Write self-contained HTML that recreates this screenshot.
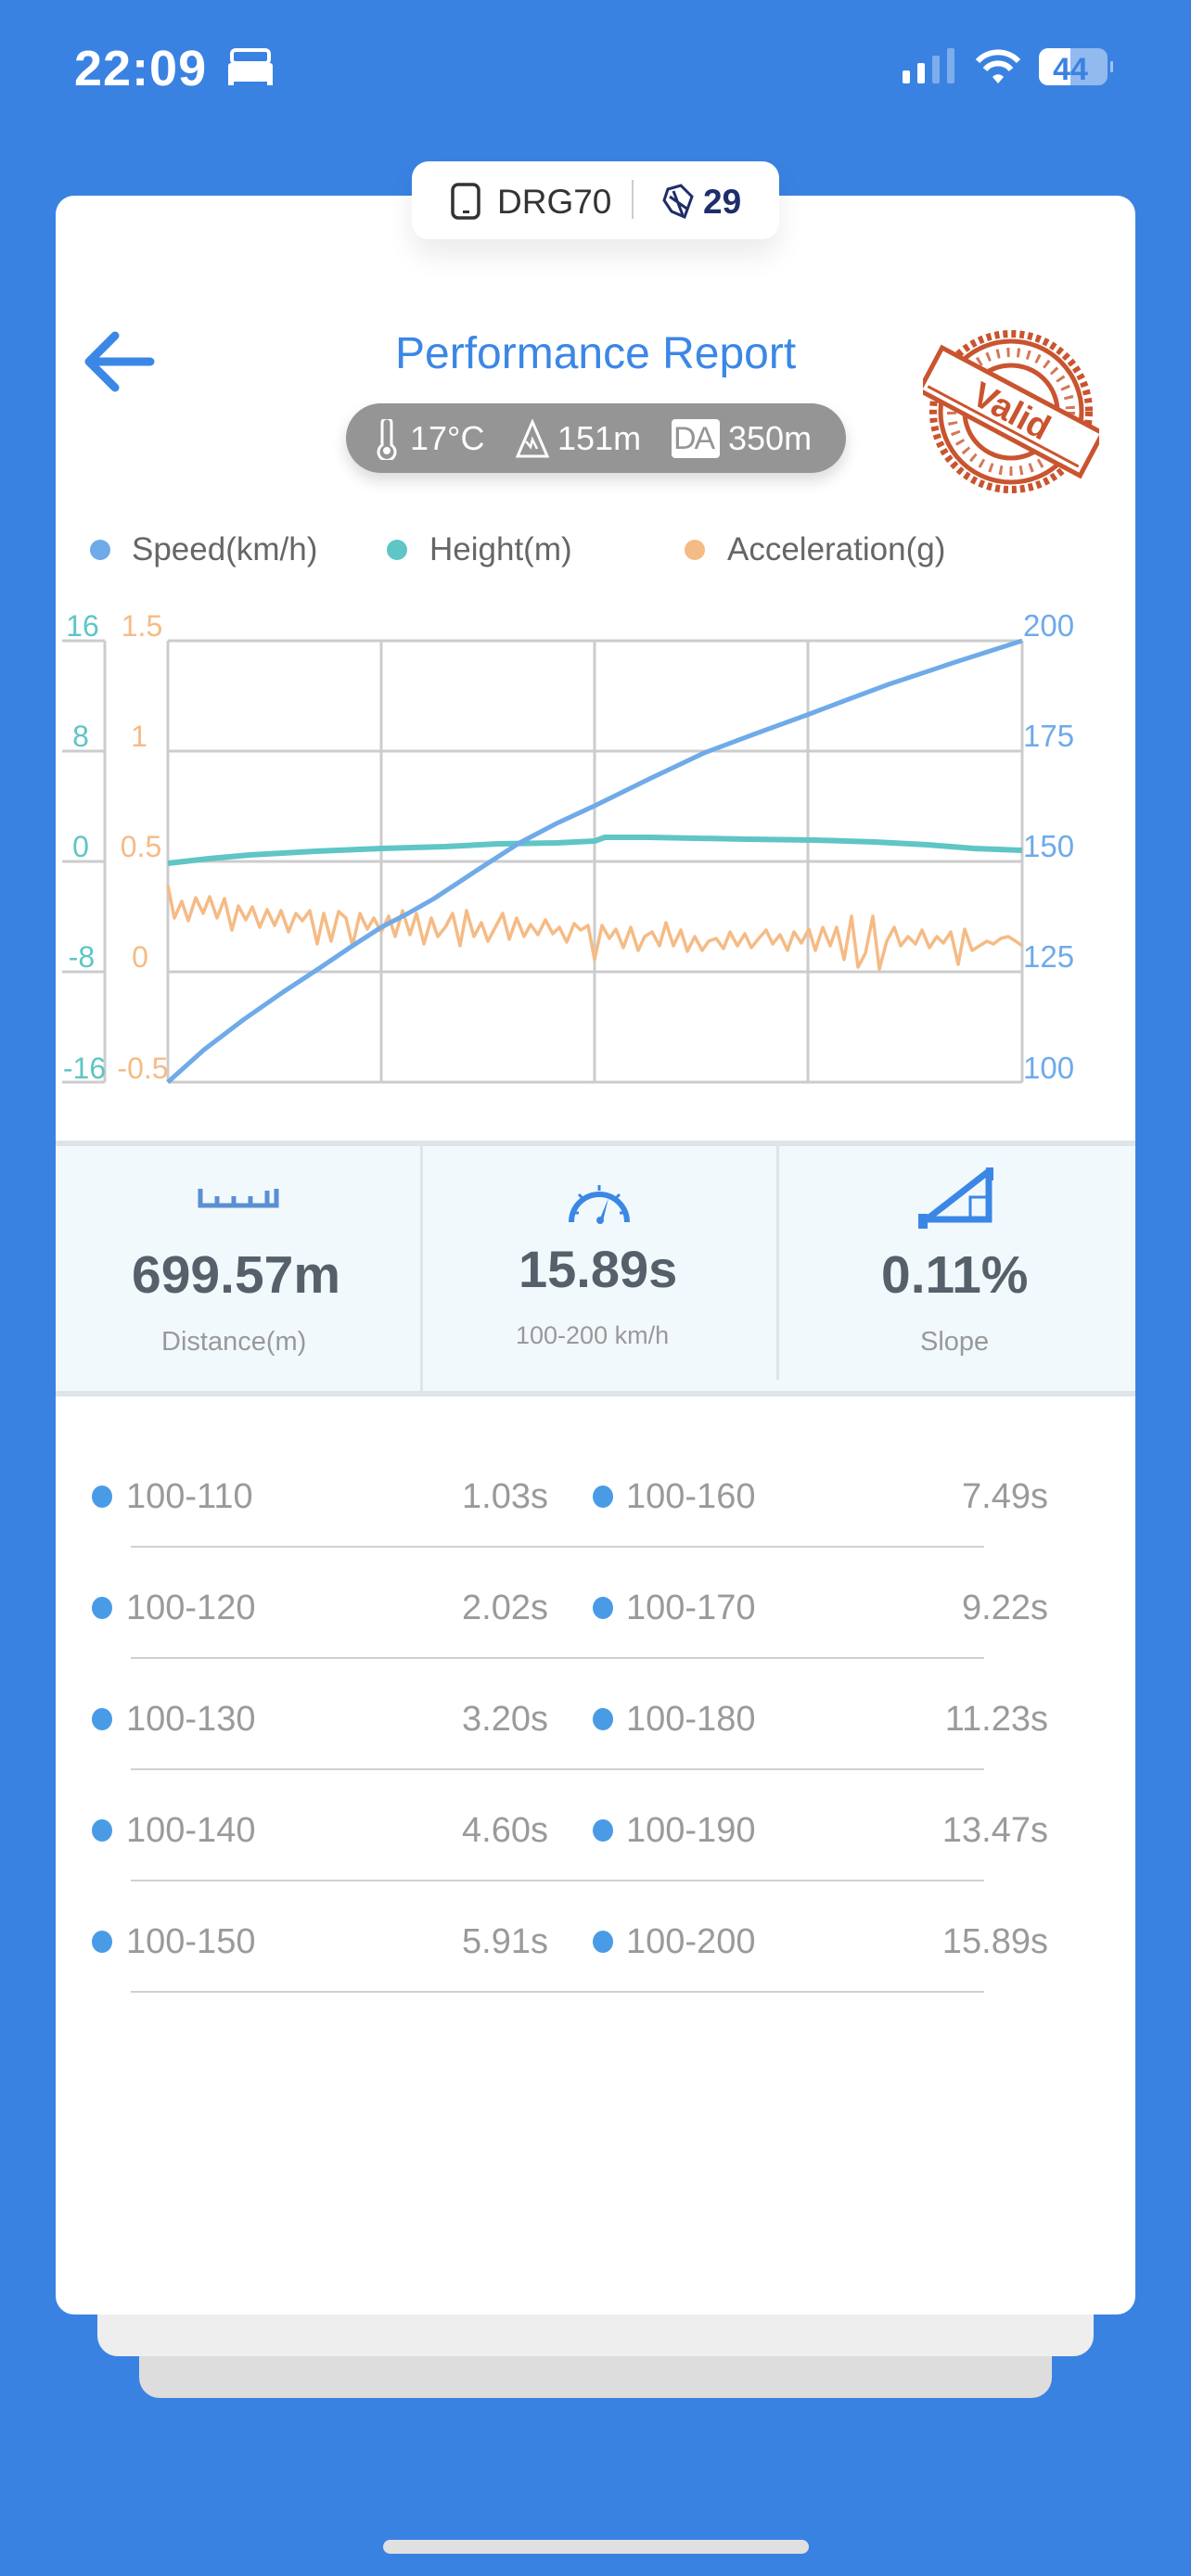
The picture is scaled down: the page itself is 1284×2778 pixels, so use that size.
<!DOCTYPE html>
<html><head><meta charset="utf-8">
<style>
*{margin:0;padding:0;box-sizing:border-box}
body{width:1284px;height:2778px;background:#3a82e2;position:relative;overflow:hidden;font-family:"Liberation Sans",Arial,sans-serif}
.abs{position:absolute}
.t{position:absolute;white-space:nowrap;line-height:1}
</style></head><body>
<!-- status bar -->
<div class="t" style="left:80px;top:47px;font-size:54px;font-weight:bold;color:#fff;letter-spacing:1px">22:09</div>
<svg class="abs" style="left:244px;top:52px" width="52" height="42" viewBox="0 0 52 42"><rect x="6" y="2" width="40" height="14" rx="4" fill="none" stroke="#fff" stroke-width="4"/><rect x="2" y="16" width="48" height="20" rx="3" fill="#fff"/><rect x="2" y="30" width="6" height="10" fill="#fff"/><rect x="44" y="30" width="6" height="10" fill="#fff"/></svg>
<svg class="abs" style="left:970px;top:50px" width="230" height="46" viewBox="0 0 230 46">
<rect x="3" y="26" width="8" height="14" rx="2" fill="#fff"/><rect x="19" y="18" width="8" height="22" rx="2" fill="#fff"/><rect x="35" y="10" width="8" height="30" rx="2" fill="#fff" opacity=".35"/><rect x="51" y="2" width="8" height="38" rx="2" fill="#fff" opacity=".35"/>
<path d="M84 16 A30 30 0 0 1 128 16" stroke="#fff" stroke-width="6" fill="none"/><path d="M92 25 A18 18 0 0 1 120 25" stroke="#fff" stroke-width="6" fill="none"/><path d="M100 33 L106 40 L112 33 A8 8 0 0 0 100 33Z" fill="#fff"/>
<rect x="150" y="2" width="74" height="40" rx="10" fill="#fff" opacity=".45"/><rect x="150" y="2" width="34" height="40" rx="10" fill="#fff"/><rect x="170" y="2" width="14" height="40" fill="#fff"/><text x="184" y="36" text-anchor="middle" font-size="34" font-weight="bold" fill="#3a82e2" font-family="Liberation Sans">44</text><rect x="227" y="16" width="3" height="12" rx="1" fill="#fff" opacity=".5"/></svg>

<!-- stacked layers -->
<div class="abs" style="left:150px;top:2480px;width:984px;height:106px;background:#dddddd;border-radius:0 0 22px 22px"></div>
<div class="abs" style="left:105px;top:2440px;width:1074px;height:101px;background:#eeeeee;border-radius:0 0 22px 22px"></div>
<div class="abs" style="left:60px;top:211px;width:1164px;height:2285px;background:#fff;border-radius:20px"></div>
<div class="abs" style="left:413px;top:2739px;width:459px;height:15px;background:#e0e0e0;border-radius:8px"></div>

<!-- top pill -->
<div class="abs" style="left:444px;top:174px;width:396px;height:84px;background:#fff;border-radius:18px;box-shadow:0 18px 30px rgba(0,0,0,0.08)"></div>
<svg class="abs" style="left:485px;top:197px" width="36" height="40" viewBox="0 0 36 40"><rect x="3" y="2" width="28" height="36" rx="6" fill="none" stroke="#333" stroke-width="3.5"/><rect x="14" y="30" width="7" height="3" fill="#333"/></svg>
<div class="t" style="left:536px;top:199px;font-size:37px;color:#333">DRG70</div>
<div class="abs" style="left:681px;top:194px;width:2px;height:42px;background:#ccc"></div>
<svg class="abs" style="left:712px;top:198px" width="40" height="40" viewBox="0 0 40 40"><path d="M8 6 L22 2 L34 14 L26 36 L12 30 L4 18Z" fill="none" stroke="#1e2d6b" stroke-width="3"/><path d="M10 14 L30 28 M14 8 L24 34" stroke="#1e2d6b" stroke-width="3"/></svg>
<div class="t" style="left:758px;top:199px;font-size:37px;font-weight:bold;color:#1e2d6b">29</div>

<!-- back arrow & title -->
<svg class="abs" style="left:88px;top:356px" width="80" height="68" viewBox="0 0 80 68"><path d="M36 6 L8 34 L36 62 M8 34 L74 34" stroke="#3b87e6" stroke-width="9" stroke-linecap="round" stroke-linejoin="round" fill="none"/></svg>
<div class="t" style="left:426px;top:358px;font-size:48px;color:#3b87e6">Performance Report</div>

<!-- weather pill -->
<div class="abs" style="left:373px;top:435px;width:539px;height:75px;background:#959595;border-radius:38px;box-shadow:0 8px 16px rgba(0,0,0,0.15)"></div>
<svg class="abs" style="left:404px;top:452px" width="26" height="44" viewBox="0 0 26 44"><path d="M8 4 A5 5 0 0 1 18 4 L18 28 A9 9 0 1 1 8 28Z" fill="none" stroke="#fff" stroke-width="3"/><circle cx="13" cy="34" r="4" fill="#fff"/></svg>
<div class="t" style="left:442px;top:455px;font-size:36px;color:#fff">17°C</div>
<svg class="abs" style="left:555px;top:452px" width="38" height="42" viewBox="0 0 38 42"><path d="M19 3 L35 40 L3 40Z" fill="none" stroke="#fff" stroke-width="3"/><path d="M12 24 L17 30 L19 22 L24 32" fill="none" stroke="#fff" stroke-width="2.5"/></svg>
<div class="t" style="left:601px;top:455px;font-size:36px;color:#fff">151m</div>
<div class="abs" style="left:724px;top:452px;width:52px;height:42px;background:#fff;border-radius:4px"></div>
<div class="t" style="left:726px;top:456px;font-size:34px;color:#959595;letter-spacing:-2px">DA</div>
<div class="t" style="left:785px;top:455px;font-size:36px;color:#fff">350m</div>

<!-- stamp -->
<svg class="abs" style="left:995px;top:352px" width="190" height="184" viewBox="-95 -92 190 184">
<g fill="none" stroke="#c9542f">
<circle r="84" stroke-width="8" stroke-dasharray="5 4"/>
<circle r="76" stroke-width="5"/>
<circle r="50" stroke-width="5"/>
<circle r="64" stroke-width="10" stroke-dasharray="3 8" opacity=".8"/>
</g>
<g transform="rotate(28)">
<rect x="-98" y="-26" width="196" height="52" fill="#fff" stroke="#c9542f" stroke-width="5"/>
<line x1="-92" y1="18" x2="92" y2="18" stroke="#c9542f" stroke-width="3"/>
<text x="0" y="12" text-anchor="middle" font-size="38" font-weight="bold" fill="#c9542f" font-family="Liberation Sans">Valid</text>
</g>
</svg>

<!-- legend -->
<div class="abs" style="left:97px;top:582px;width:22px;height:22px;border-radius:50%;background:#6faae9"></div>
<div class="t" style="left:142px;top:575px;font-size:35px;color:#666">Speed(km/h)</div>
<div class="abs" style="left:417px;top:582px;width:22px;height:22px;border-radius:50%;background:#5fc5c5"></div>
<div class="t" style="left:463px;top:575px;font-size:35px;color:#666">Height(m)</div>
<div class="abs" style="left:738px;top:582px;width:22px;height:22px;border-radius:50%;background:#f5bb85"></div>
<div class="t" style="left:784px;top:575px;font-size:35px;color:#666">Acceleration(g)</div>

<!-- chart -->
<svg class="abs" style="left:0;top:640px" width="1284" height="560" viewBox="0 640 1284 560">
<g stroke="#cccccc" stroke-width="3" fill="none">
<line x1="181" y1="691" x2="1102" y2="691"/><line x1="181" y1="810" x2="1102" y2="810"/><line x1="181" y1="929" x2="1102" y2="929"/><line x1="181" y1="1048" x2="1102" y2="1048"/><line x1="181" y1="1167" x2="1102" y2="1167"/>
<line x1="181" y1="691" x2="181" y2="1167"/><line x1="411" y1="691" x2="411" y2="1167"/><line x1="641" y1="691" x2="641" y2="1167"/><line x1="871" y1="691" x2="871" y2="1167"/><line x1="1102" y1="691" x2="1102" y2="1167"/>
<line x1="113" y1="691" x2="113" y2="1167"/>
<line x1="67" y1="691" x2="113" y2="691"/><line x1="67" y1="810" x2="113" y2="810"/><line x1="67" y1="929" x2="113" y2="929"/><line x1="67" y1="1048" x2="113" y2="1048"/><line x1="67" y1="1167" x2="113" y2="1167"/>
</g>
<g font-family="Liberation Sans" font-size="32" text-anchor="middle" fill="#5fc5c5">
<text x="89" y="686">16</text><text x="87" y="805">8</text><text x="87" y="924">0</text><text x="88" y="1043">-8</text><text x="91" y="1163">-16</text></g>
<g font-family="Liberation Sans" font-size="32" text-anchor="middle" fill="#f5bb85">
<text x="153" y="686">1.5</text><text x="150" y="805">1</text><text x="152" y="924">0.5</text><text x="151" y="1043">0</text><text x="154" y="1163">-0.5</text></g>
<g font-family="Liberation Sans" font-size="33" fill="#6faae9">
<text x="1103" y="686">200</text><text x="1103" y="805">175</text><text x="1103" y="924">150</text><text x="1103" y="1043">125</text><text x="1103" y="1163">100</text></g>
<polyline fill="none" stroke="#f5bb85" stroke-width="3.5" stroke-linejoin="round" points="181,955 188,990 196,972 203,993 211,968 219,985 226,967 234,990 242,969 250,1003 257,977 265,992 272,978 280,1000 288,981 296,998 303,982 311,1005 319,985 326,993 334,982 342,1018 349,985 357,1015 365,983 373,990 380,1020 388,985 396,1002 403,990 411,1005 419,988 426,1010 434,982 442,1008 449,985 457,1018 465,990 472,1010 480,1000 488,985 496,1020 503,982 511,1010 519,995 526,1015 534,1000 542,985 549,1013 557,990 565,1010 572,997 580,1008 588,992 596,1007 603,1000 611,1016 619,996 626,1003 634,998 641,1035 649,998 657,1012 664,1002 672,1022 680,1000 688,1025 695,1010 703,1005 711,1020 718,995 726,1020 734,1003 741,1026 749,1010 757,1025 764,1015 772,1012 780,1023 787,1005 795,1020 803,1007 810,1022 818,1012 826,1003 833,1018 841,1008 849,1025 856,1005 864,1017 872,1002 879,1025 887,1000 895,1020 902,1000 910,1035 918,988 925,1043 933,1028 941,988 948,1045 956,1015 964,1000 971,1020 979,1010 987,1018 994,1003 1002,1022 1010,1010 1017,1017 1025,1005 1033,1040 1040,1002 1048,1025 1056,1020 1064,1015 1071,1018 1079,1012 1087,1010 1095,1015 1102,1020"/>
<polyline fill="none" stroke="#5fc5c5" stroke-width="6" stroke-linejoin="round" points="181,931 225,926 269,922 340,918 411,915 480,913 537,910 600,909 641,907 652,903 700,903 805,905 880,906 943,908 1000,911 1050,915 1102,917"/>
<polyline fill="none" stroke="#6faae9" stroke-width="5" stroke-linejoin="round" points="181,1167 220,1132 262,1100 305,1070 346,1043 380,1020 411,1000 440,985 468,969 515,938 560,909 600,888 641,869 700,840 759,812 815,791 870,771 915,754 958,738 1030,714 1102,691"/>
</svg>

<!-- stats -->
<div class="abs" style="left:60px;top:1230px;width:1164px;height:276px;background:#f2f9fc;border-top:6px solid #dde5e8;border-bottom:6px solid #dde5e8"></div>
<div class="abs" style="left:453px;top:1236px;width:3px;height:264px;background:#dde5e8"></div>
<div class="abs" style="left:837px;top:1236px;width:3px;height:252px;background:#dde5e8"></div>
<svg class="abs" style="left:213px;top:1280px" width="88" height="24" viewBox="0 0 88 24"><path d="M3 2 L3 20 L85 20 L85 2 M21 10 L21 20 M39 10 L39 20 M57 10 L57 20 M75 4 L75 20" stroke="#5b8fd3" stroke-width="5" fill="none"/></svg>
<svg class="abs" style="left:610px;top:1270px" width="72" height="50" viewBox="0 0 72 50"><path d="M6 48 A30 30 0 1 1 66 48" stroke="#3b87e6" stroke-width="6" fill="none"/><path d="M36 46 L46 22 L40 47Z" fill="#3b87e6"/><circle cx="37" cy="46" r="4" fill="#3b87e6"/><path d="M36 8 L36 14 M14 18 L18 22 M58 18 L54 22 M8 38 L14 38 M64 38 L58 38" stroke="#3b87e6" stroke-width="3"/></svg>
<svg class="abs" style="left:990px;top:1259px" width="82" height="66" viewBox="0 0 82 66"><path d="M4 60 L76 4 L76 56 L4 56Z" fill="none" stroke="#3b87e6" stroke-width="7" stroke-linejoin="miter"/><rect x="73" y="0" width="8" height="14" fill="#3b87e6"/><rect x="0" y="50" width="10" height="16" fill="#3b87e6"/><rect x="56" y="32" width="18" height="22" fill="none" stroke="#3b87e6" stroke-width="3"/></svg>
<div class="t" style="left:142px;top:1347px;font-size:57px;font-weight:bold;color:#56606b">699.57m</div>
<div class="t" style="left:559px;top:1341px;font-size:56px;font-weight:bold;color:#56606b">15.89s</div>
<div class="t" style="left:950px;top:1347px;font-size:57px;font-weight:bold;color:#56606b">0.11%</div>
<div class="t" style="left:174px;top:1433px;font-size:29px;color:#999">Distance(m)</div>
<div class="t" style="left:556px;top:1427px;font-size:27px;color:#999">100-200 km/h</div>
<div class="t" style="left:992px;top:1433px;font-size:29px;color:#999">Slope</div>

<!-- list -->
<div class="abs" style="left:99px;top:1602px;width:22px;height:24px;border-radius:50%;background:#4a9be6"></div>
<div class="abs" style="left:639px;top:1602px;width:22px;height:24px;border-radius:50%;background:#4a9be6"></div>
<div class="abs" style="left:99px;top:1722px;width:22px;height:24px;border-radius:50%;background:#4a9be6"></div>
<div class="abs" style="left:639px;top:1722px;width:22px;height:24px;border-radius:50%;background:#4a9be6"></div>
<div class="abs" style="left:99px;top:1842px;width:22px;height:24px;border-radius:50%;background:#4a9be6"></div>
<div class="abs" style="left:639px;top:1842px;width:22px;height:24px;border-radius:50%;background:#4a9be6"></div>
<div class="abs" style="left:99px;top:1962px;width:22px;height:24px;border-radius:50%;background:#4a9be6"></div>
<div class="abs" style="left:639px;top:1962px;width:22px;height:24px;border-radius:50%;background:#4a9be6"></div>
<div class="abs" style="left:99px;top:2082px;width:22px;height:24px;border-radius:50%;background:#4a9be6"></div>
<div class="abs" style="left:639px;top:2082px;width:22px;height:24px;border-radius:50%;background:#4a9be6"></div>
<div style="position:absolute;left:0;top:0;font-size:38px;color:#9a9a9a">
<div class="t" style="left:136px;top:1595px">100-110</div><div class="t" style="left:391px;top:1595px;width:200px;text-align:right">1.03s</div><div class="t" style="left:675px;top:1595px">100-160</div><div class="t" style="left:930px;top:1595px;width:200px;text-align:right">7.49s</div>
<div class="t" style="left:136px;top:1715px">100-120</div><div class="t" style="left:391px;top:1715px;width:200px;text-align:right">2.02s</div><div class="t" style="left:675px;top:1715px">100-170</div><div class="t" style="left:930px;top:1715px;width:200px;text-align:right">9.22s</div>
<div class="t" style="left:136px;top:1835px">100-130</div><div class="t" style="left:391px;top:1835px;width:200px;text-align:right">3.20s</div><div class="t" style="left:675px;top:1835px">100-180</div><div class="t" style="left:930px;top:1835px;width:200px;text-align:right">11.23s</div>
<div class="t" style="left:136px;top:1955px">100-140</div><div class="t" style="left:391px;top:1955px;width:200px;text-align:right">4.60s</div><div class="t" style="left:675px;top:1955px">100-190</div><div class="t" style="left:930px;top:1955px;width:200px;text-align:right">13.47s</div>
<div class="t" style="left:136px;top:2075px">100-150</div><div class="t" style="left:391px;top:2075px;width:200px;text-align:right">5.91s</div><div class="t" style="left:675px;top:2075px">100-200</div><div class="t" style="left:930px;top:2075px;width:200px;text-align:right">15.89s</div>
</div>
<div class="abs" style="left:141px;top:1667px;width:920px;height:2px;background:#d0d0d0"></div>
<div class="abs" style="left:141px;top:1787px;width:920px;height:2px;background:#d0d0d0"></div>
<div class="abs" style="left:141px;top:1907px;width:920px;height:2px;background:#d0d0d0"></div>
<div class="abs" style="left:141px;top:2027px;width:920px;height:2px;background:#d0d0d0"></div>
<div class="abs" style="left:141px;top:2147px;width:920px;height:2px;background:#d0d0d0"></div>
</body></html>
